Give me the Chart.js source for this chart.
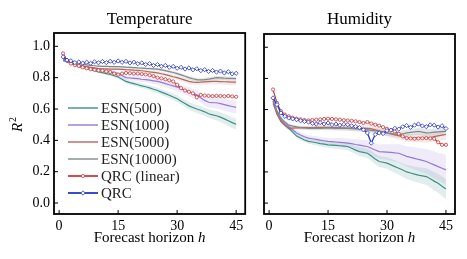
<!DOCTYPE html>
<html>
<head>
<meta charset="utf-8">
<script src="https://cdn.jsdelivr.net/npm/chart.js@4"></script>
<style>
html, body { margin: 0; padding: 0; background: #fff; }
#wrap { position: relative; width: 467px; height: 259px; }
#left { position: absolute; left: 0; top: 0; width: 250px; height: 259px; }
#right { position: absolute; left: 250px; top: 0; width: 217px; height: 259px; }
</style>
</head>
<body>
<div id="wrap">
  <canvas id="left" width="250" height="259"></canvas>
  <canvas id="right" width="217" height="259"></canvas>
</div>
<script>
const hours = [1,2,3,4,5,6,7,8,9,10,11,12,13,14,15,16,17,18,19,20,21,22,23,24,25,26,27,28,29,30,31,32,33,34,35,36,37,38,39,40,41,42,43,44,45];
const xTicks = [0, 15, 30, 45];
const yTicks = [0, 0.2, 0.4, 0.6, 0.8, 1.0];
const names = ['ESN(500)', 'ESN(1000)', 'ESN(5000)', 'ESN(10000)', 'QRC (linear)', 'QRC'];

// Temperature
const tempEsn500 = [.910,.900,.893,.882,.870,.865,.858,.852,.845,.837,.832,.826,.820,.812,.804,.790,.776,.768,.762,.755,.748,.742,.735,.726,.718,.708,.698,.688,.677,.665,.650,.635,.620,.610,.600,.592,.582,.570,.563,.557,.548,.537,.525,.513,.503];
const tempEsn1000 = [.910,.900,.892,.884,.875,.871,.867,.862,.858,.854,.849,.844,.838,.832,.826,.812,.800,.798,.796,.794,.790,.787,.784,.780,.776,.770,.762,.755,.748,.740,.730,.720,.710,.700,.690,.672,.655,.643,.641,.640,.634,.628,.622,.616,.610];
const tempEsn5000 = [.920,.908,.898,.889,.880,.875,.870,.866,.862,.858,.857,.856,.855,.855,.854,.853,.851,.850,.848,.847,.844,.841,.837,.834,.830,.825,.819,.813,.806,.800,.792,.784,.776,.772,.770,.771,.773,.775,.776,.776,.775,.774,.773,.772,.772];
const tempEsn10000 = [.930,.918,.907,.898,.890,.886,.882,.879,.876,.873,.872,.872,.871,.870,.870,.869,.867,.866,.864,.862,.861,.859,.858,.856,.854,.850,.845,.839,.833,.826,.818,.809,.800,.793,.787,.786,.787,.791,.796,.800,.799,.797,.796,.795,.794];
const tempQrcLin = [.955,.910,.890,.880,.875,.866,.860,.854,.850,.847,.845,.840,.836,.826,.820,.826,.830,.828,.826,.826,.823,.820,.816,.810,.800,.796,.790,.783,.776,.755,.733,.718,.710,.700,.675,.690,.686,.684,.682,.684,.683,.681,.683,.680,.678];
const tempQrc = [.933,.912,.908,.896,.900,.893,.899,.892,.901,.895,.903,.896,.905,.898,.907,.898,.904,.894,.899,.889,.894,.884,.889,.878,.884,.873,.878,.866,.872,.860,.866,.855,.862,.850,.857,.845,.851,.840,.846,.836,.842,.830,.838,.824,.828];
const tempBand500 = [.005,.005,.005,.006,.006,.007,.007,.008,.008,.009,.009,.010,.010,.011,.011,.012,.013,.013,.014,.015,.015,.016,.016,.017,.018,.018,.019,.020,.020,.021,.022,.023,.024,.025,.026,.027,.027,.028,.029,.030,.031,.032,.033,.034,.035];
const tempBand1000 = [.005,.005,.006,.006,.007,.007,.008,.008,.009,.010,.010,.011,.012,.012,.013,.014,.015,.015,.016,.017,.018,.018,.019,.020,.021,.022,.023,.024,.025,.026,.027,.028,.029,.030,.031,.032,.033,.034,.035,.036,.037,.038,.039,.040,.040];
const tempBand5000 = [.003,.003,.003,.004,.004,.004,.005,.005,.005,.006,.006,.006,.007,.007,.007,.008,.008,.008,.009,.009,.010,.010,.010,.011,.011,.012,.012,.013,.013,.014,.014,.015,.015,.016,.016,.017,.017,.018,.018,.019,.019,.020,.020,.020,.020];
const tempBand10000 = [.003,.003,.003,.003,.004,.004,.004,.004,.005,.005,.005,.005,.006,.006,.006,.006,.007,.007,.007,.007,.008,.008,.008,.008,.009,.009,.009,.009,.010,.010,.010,.010,.011,.011,.011,.011,.012,.012,.012,.012,.012,.012,.012,.012,.012];

// Humidity
const humEsn500 = [.654,.580,.525,.500,.480,.455,.430,.418,.405,.396,.392,.387,.382,.378,.374,.372,.370,.368,.366,.363,.352,.340,.330,.325,.320,.302,.283,.267,.262,.256,.245,.234,.224,.212,.200,.193,.186,.180,.175,.170,.156,.141,.127,.108,.090];
const humEsn1000 = [.665,.590,.535,.510,.490,.470,.450,.437,.426,.417,.413,.409,.404,.400,.396,.394,.392,.390,.388,.385,.381,.376,.372,.367,.363,.352,.341,.330,.329,.327,.325,.322,.320,.310,.300,.293,.287,.280,.274,.267,.256,.245,.234,.224,.213];
const humEsn5000 = [.640,.570,.525,.500,.480,.481,.482,.483,.484,.485,.485,.486,.486,.486,.486,.485,.484,.483,.482,.481,.481,.482,.481,.480,.480,.476,.470,.463,.457,.450,.444,.438,.432,.425,.420,.419,.418,.418,.417,.417,.421,.426,.431,.436,.440];
const humEsn10000 = [.654,.590,.546,.520,.500,.494,.489,.485,.482,.480,.480,.480,.480,.481,.481,.481,.480,.480,.480,.480,.478,.476,.474,.472,.470,.467,.463,.460,.455,.450,.446,.443,.440,.445,.450,.454,.457,.460,.455,.450,.452,.455,.457,.459,.460];
const humQrcLin = [.729,.643,.590,.568,.557,.548,.542,.538,.533,.530,.533,.535,.537,.540,.542,.540,.537,.535,.532,.530,.528,.525,.520,.514,.520,.510,.503,.497,.487,.477,.468,.460,.445,.428,.417,.415,.413,.415,.416,.417,.415,.413,.390,.374,.374];
const humQrc = [.675,.632,.578,.557,.546,.540,.535,.528,.524,.520,.512,.507,.516,.508,.514,.503,.507,.500,.506,.503,.496,.492,.484,.470,.450,.385,.440,.450,.446,.465,.468,.480,.475,.490,.497,.486,.500,.507,.495,.490,.502,.500,.488,.496,.478];
const humBand500 = [.010,.010,.011,.011,.012,.012,.013,.014,.014,.015,.016,.017,.018,.019,.020,.021,.022,.023,.024,.025,.026,.027,.028,.030,.031,.032,.034,.035,.036,.038,.039,.041,.042,.044,.045,.047,.049,.050,.052,.054,.056,.058,.060,.062,.065];
const humBand1000 = [.010,.010,.011,.012,.013,.014,.015,.016,.017,.018,.019,.020,.021,.022,.023,.024,.026,.027,.029,.030,.032,.034,.036,.038,.040,.042,.044,.046,.048,.050,.053,.056,.059,.062,.065,.068,.071,.074,.077,.080,.083,.086,.089,.092,.095];
const humBand5000 = [.010,.010,.010,.011,.011,.011,.012,.012,.012,.013,.013,.013,.014,.014,.014,.015,.015,.016,.016,.017,.017,.018,.018,.019,.019,.020,.020,.021,.022,.022,.023,.024,.024,.025,.026,.026,.027,.028,.028,.029,.030,.031,.032,.033,.034];
const humBand10000 = [.010,.010,.010,.010,.011,.011,.011,.011,.012,.012,.012,.012,.013,.013,.013,.014,.014,.014,.015,.015,.015,.016,.016,.016,.017,.017,.018,.018,.018,.019,.019,.020,.020,.021,.021,.022,.022,.023,.023,.024,.024,.024,.025,.025,.025];

const lineColors = ['#3f8f84', '#9479d6', '#b4675f', '#7f8a8c', '#cc3a3a', '#2636c9'];
const bandColors = ['rgba(63,143,132,0.15)', 'rgba(148,121,214,0.15)', 'rgba(180,103,95,0.14)', 'rgba(127,138,140,0.2)'];
const serif = "'Liberation Serif', 'Times New Roman', serif";

Chart.defaults.font.family = serif;
Chart.defaults.color = '#000';

function pts(vals) {
    return hours.map((h, i) => ({ x: h, y: vals[i] }));
}

function buildDatasets(esn, bands, qrcLin, qrc) {
    const ds = [];
    esn.forEach((vals, k) => {
        ds.push({
            data: pts(vals.map((v, i) => v + bands[k][i])),
            borderWidth: 0, pointRadius: 0, fill: '+1',
            backgroundColor: bandColors[k], order: 20
        });
        ds.push({
            data: pts(vals.map((v, i) => v - bands[k][i])),
            borderWidth: 0, pointRadius: 0, fill: false, order: 20
        });
    });
    esn.forEach((vals, k) => {
        ds.push({
            label: names[k], data: pts(vals), borderColor: lineColors[k],
            borderWidth: 1.2, pointRadius: 0, fill: false, order: 10 - k
        });
    });
    ds.push({
        label: names[4], data: pts(qrcLin), borderColor: lineColors[4],
        backgroundColor: '#fff', borderWidth: 1.2, pointRadius: 1.6,
        pointBorderWidth: 0.8, pointStyle: 'circle', fill: false, order: 2
    });
    ds.push({
        label: names[5], data: pts(qrc), borderColor: lineColors[5],
        backgroundColor: '#fff', borderWidth: 1.2, pointRadius: 2.1,
        pointBorderWidth: 0.8, pointStyle: 'rectRot', fill: false, order: 1
    });
    return ds;
}

// frame, inward ticks, panel title and axis title
const panelText = {
    id: 'panelText',
    afterDatasetsDraw(chart, args, opts) {
        const { ctx, chartArea: a } = chart;
        const xs = chart.scales.x, ys = chart.scales.y;
        ctx.save();
        ctx.strokeStyle = '#000';
        ctx.lineWidth = 1;
        ctx.beginPath();
        xTicks.forEach(v => {
            const px = xs.getPixelForValue(v);
            ctx.moveTo(px, a.bottom);
            ctx.lineTo(px, a.bottom - 4);
        });
        yTicks.forEach(v => {
            const py = ys.getPixelForValue(v);
            ctx.moveTo(a.left, py);
            ctx.lineTo(a.left + 4, py);
        });
        ctx.stroke();
        ctx.lineWidth = 1.8;
        ctx.strokeRect(a.left, a.top, a.right - a.left, a.bottom - a.top);

        const cx = (a.left + a.right) / 2;
        ctx.fillStyle = '#000';
        ctx.textBaseline = 'middle';
        ctx.textAlign = 'center';
        ctx.font = '17px ' + serif;
        ctx.fillText(opts.title, cx, 20);

        // x axis title with italic h
        ctx.textAlign = 'left';
        ctx.font = '15px ' + serif;
        const t1 = 'Forecast horizon ';
        const w1 = ctx.measureText(t1).width;
        ctx.font = 'italic 15px ' + serif;
        const w2 = ctx.measureText('h').width;
        let x0 = cx - (w1 + w2) / 2;
        ctx.font = '15px ' + serif;
        ctx.fillText(t1, x0, 238);
        ctx.font = 'italic 15px ' + serif;
        ctx.fillText('h', x0 + w1, 238);

        if (opts.yTitle) {
            ctx.translate(18, 125);
            ctx.rotate(-Math.PI / 2);
            ctx.font = 'italic 15px ' + serif;
            const wr = ctx.measureText('R').width;
            ctx.font = '10px ' + serif;
            const ws = ctx.measureText('2').width;
            const sx = -(wr + ws) / 2;
            ctx.font = 'italic 15px ' + serif;
            ctx.fillText('R', sx, 0);
            ctx.font = '10px ' + serif;
            ctx.fillText('2', sx + wr + 1, -5);
        }
        ctx.restore();
    }
};

const innerLegend = {
    id: 'innerLegend',
    afterDatasetsDraw(chart, args, opts) {
        if (!opts.show) return;
        const { ctx } = chart;
        ctx.save();
        ctx.font = '15px ' + serif;
        ctx.textBaseline = 'middle';
        ctx.textAlign = 'left';
        names.forEach((n, i) => {
            const y = 108 + i * 17;
            ctx.strokeStyle = lineColors[i];
            ctx.lineWidth = i >= 4 ? 1.8 : 1.4;
            ctx.beginPath();
            ctx.moveTo(68, y);
            ctx.lineTo(98, y);
            ctx.stroke();
            if (i === 4) {
                ctx.fillStyle = '#fff';
                ctx.lineWidth = 0.8;
                ctx.beginPath();
                ctx.arc(83, y, 1.6, 0, Math.PI * 2);
                ctx.fill();
                ctx.stroke();
            } else if (i === 5) {
                ctx.fillStyle = '#fff';
                ctx.lineWidth = 0.8;
                ctx.beginPath();
                ctx.moveTo(83, y - 2.2);
                ctx.lineTo(85.2, y);
                ctx.lineTo(83, y + 2.2);
                ctx.lineTo(80.8, y);
                ctx.closePath();
                ctx.fill();
                ctx.stroke();
            }
            ctx.fillStyle = '#222';
            ctx.fillText(n, 101, y + 1);
        });
        ctx.restore();
    }
};

function makeChart(id, datasets, opts) {
    const ctx = document.getElementById(id).getContext('2d');
    return new Chart(ctx, {
        type: 'line',
        data: { datasets: datasets },
        options: {
            responsive: false,
            animation: false,
            layout: { padding: { top: opts.top, right: opts.right, left: 0, bottom: 0 } },
            elements: { line: { tension: 0 } },
            plugins: {
                legend: { display: false },
                tooltip: { enabled: false },
                panelText: { title: opts.title, yTitle: opts.yLabels },
                innerLegend: { show: opts.legend }
            },
            scales: {
                x: {
                    type: 'linear', min: -1.3, max: 47.3,
                    afterBuildTicks: s => { s.ticks = xTicks.map(v => ({ value: v })); },
                    afterFit: s => { s.height = 45; },
                    grid: { display: false, drawTicks: false },
                    border: { display: false },
                    ticks: { padding: 4, font: { size: 14 }, color: '#000', maxRotation: 0, autoSkip: false }
                },
                y: {
                    type: 'linear', min: -0.07, max: 1.085,
                    afterBuildTicks: s => { s.ticks = yTicks.map(v => ({ value: v })); },
                    afterFit: s => { s.width = opts.yWidth; },
                    grid: { display: false, drawTicks: false },
                    border: { display: false },
                    ticks: {
                        padding: 4, font: { size: 14 }, color: '#000',
                        callback: v => opts.yLabels ? v.toFixed(1) : ''
                    }
                }
            }
        },
        plugins: [panelText, innerLegend]
    });
}

makeChart('left',
    buildDatasets([tempEsn500, tempEsn1000, tempEsn5000, tempEsn10000],
        [tempBand500, tempBand1000, tempBand5000, tempBand10000], tempQrcLin, tempQrc),
    { title: 'Temperature', top: 33, right: 4, yWidth: 54, yLabels: true, legend: true });

makeChart('right',
    buildDatasets([humEsn500, humEsn1000, humEsn5000, humEsn10000],
        [humBand500, humBand1000, humBand5000, humBand10000], humQrcLin, humQrc),
    { title: 'Humidity', top: 34, right: 12, yWidth: 14, yLabels: false, legend: false });
</script>
</body>
</html>
